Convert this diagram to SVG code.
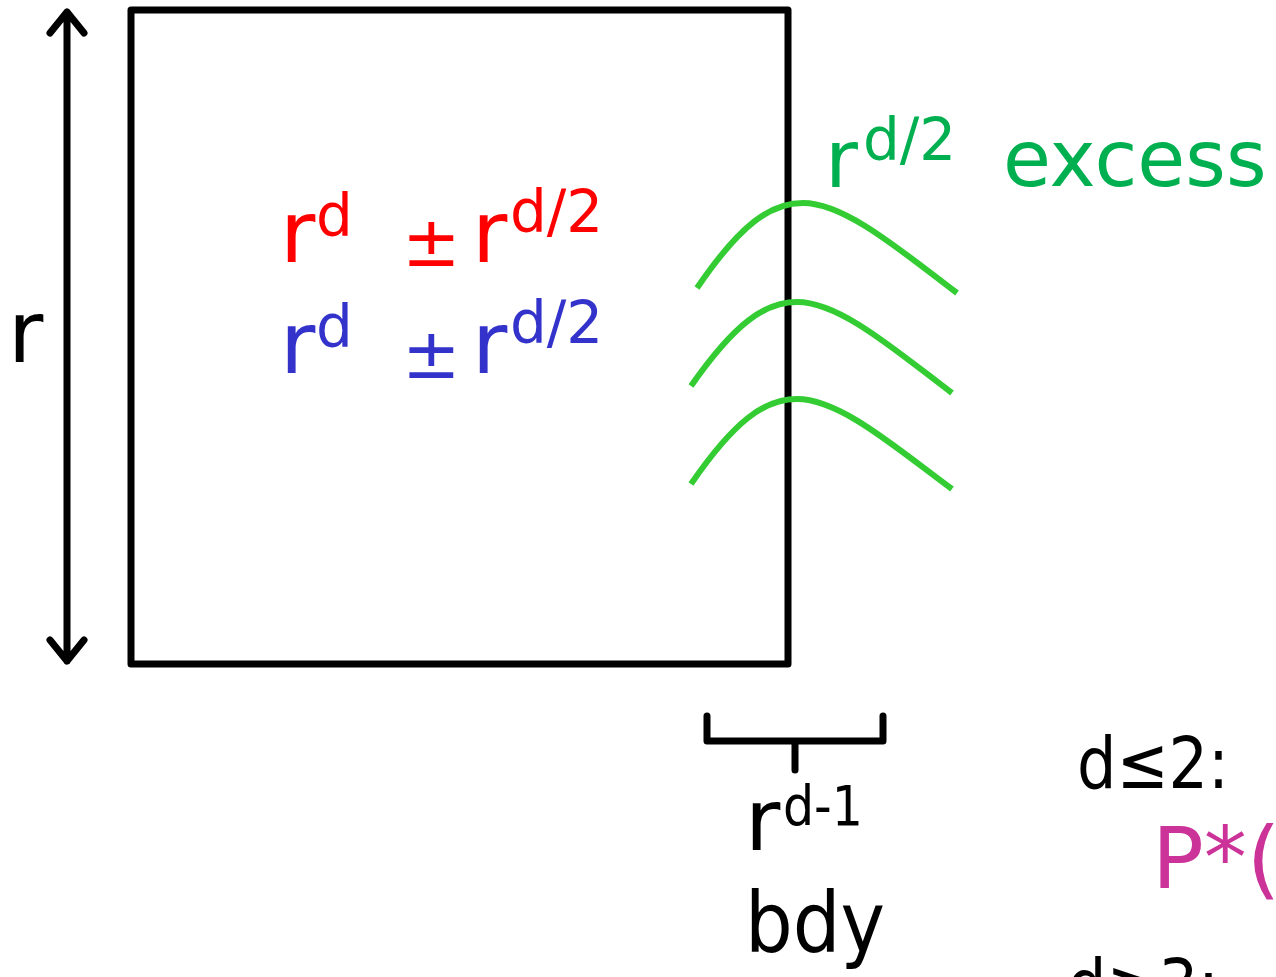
<svg xmlns="http://www.w3.org/2000/svg" width="1276" height="977" viewBox="0 0 1276 977">
<style>
.t{font-family:"DejaVu Sans","Liberation Sans",sans-serif;}
.k{stroke:#000;stroke-width:7;fill:none;stroke-linecap:round;stroke-linejoin:round;}
.g{stroke:#33cc33;stroke-width:6;fill:none;stroke-linecap:butt;}
.red{fill:#ff0000;}
.blue{fill:#3333cc;}
.grn{fill:#00b050;}
.blk{fill:#000;}
.mag{fill:#cc3399;}
.big{font-size:86px;}
.sup{font-size:58px;}
.pm{font-size:70px;}
</style>
<rect width="1276" height="977" fill="#fff"/>
<g id="square"><rect x="131" y="10" width="657" height="654" class="k" stroke-width="8"/></g>
<g id="connectors">
<path class="k" d="M67 12 V661 M50 33 L67 12 L84 33 M50 640 L67 661 L84 640"/>
<path class="k" d="M707 716 V741 H883 V716 M795 741 V770"/>
</g>
<g id="curves">
<path class="g" d="M697 288 C740 225 770 203 803 203 C845 203 900 250 957 293"/>
<path class="g" d="M691 386 C735 323 765 302 797 302 C840 302 895 350 952 393"/>
<path class="g" d="M691 484 C735 420 765 399 797 399 C840 399 895 447 952 489"/>
</g>
<g id="label-r"><text class="t big blk" x="8" y="362">r</text></g>
<g id="red-line" class="t red">
<text class="big" x="280" y="262">r</text>
<text class="sup" x="316" y="236">d</text>
<text class="pm" x="402" y="266">±</text>
<text class="big" x="472" y="262">r</text>
<text class="sup" x="510" y="232">d/2</text>
</g>
<g id="blue-line" class="t blue">
<text class="big" x="280" y="373">r</text>
<text class="sup" x="316" y="347">d</text>
<text class="pm" x="402" y="378">±</text>
<text class="big" x="472" y="373">r</text>
<text class="sup" x="510" y="343">d/2</text>
</g>
<g id="excess" class="t grn">
<text x="825" y="187" style="font-size:80px">r</text>
<text class="sup" x="863" y="160">d/2</text>
<text x="1003" y="186" style="font-size:78px">excess</text>
</g>
<g id="bdy" class="t blk">
<text class="big" x="745" y="850">r</text>
<text x="783" y="825" style="font-size:55px" textLength="80" lengthAdjust="spacingAndGlyphs">d-1</text>
<text x="745" y="952" style="font-size:84px" textLength="140" lengthAdjust="spacingAndGlyphs">bdy</text>
</g>
<g id="cases" class="t">
<text class="blk" x="1077" y="788" style="font-size:72px" textLength="152" lengthAdjust="spacingAndGlyphs">d≤2:</text>
<text class="mag" x="1152" y="888" style="font-size:86px">P*(</text>
<text class="blk" x="1067" y="1010" style="font-size:72px" textLength="152" lengthAdjust="spacingAndGlyphs">d≥3:</text>
</g>
</svg>
